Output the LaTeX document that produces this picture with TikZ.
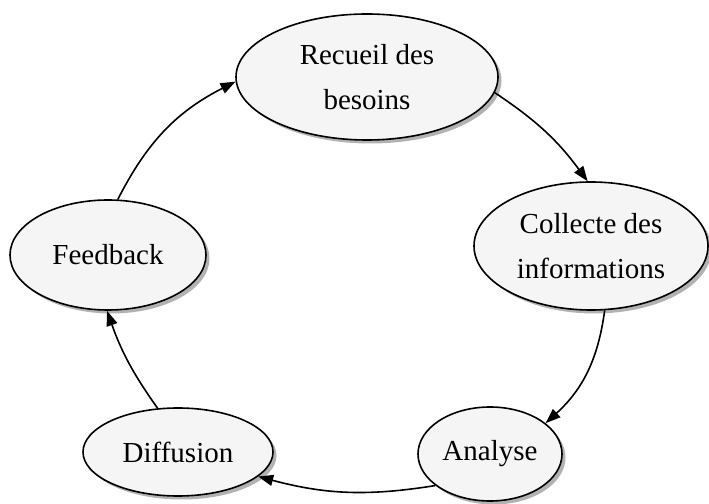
\documentclass[tikz,border=0pt]{standalone}
\usepackage{fontspec}
\setmainfont{Liberation Serif}
\usetikzlibrary{arrows.meta,shapes.geometric,shadows}

\begin{document}
\begin{tikzpicture}[
  x=1pt, y=1pt,
  font=\fontsize{29}{45}\selectfont,
  >={Triangle[length=15pt,width=11pt]},
  stage/.style={draw, ellipse, line width=1.6pt, fill=gray!8, align=center, inner sep=0pt,
    drop shadow={shadow xshift=3.5pt, shadow yshift=-3.5pt, fill=black!60}},
  arr/.style={->, line width=1.6pt}
]
\useasboundingbox (0,0) rectangle (709,503);
\node[stage, minimum width=262, minimum height=126] (rb) at (367,426) {Recueil des\\besoins};
\node[stage, minimum width=234, minimum height=128] (cb) at (591,257) {Collecte des\\informations};
\node[stage, minimum width=144, minimum height=94] (ab) at (490,49) {Analyse};
\node[stage, minimum width=190, minimum height=88] (db) at (178,51) {Diffusion};
\node[stage, minimum width=196, minimum height=110] (fb) at (108,248) {Feedback};
\draw[arr] (fb.80) to[bend left=18] (rb.182);
\draw[arr] (rb.-7) to[bend left=10] (cb.93);
\draw[arr] (cb.-78) to[bend left=20] (ab.29);
\draw[arr] (ab.210) to[bend left=12] (db.-17);
\draw[arr] (db.115) to[bend left=8] (fb.-91);
\end{tikzpicture}
\end{document}
